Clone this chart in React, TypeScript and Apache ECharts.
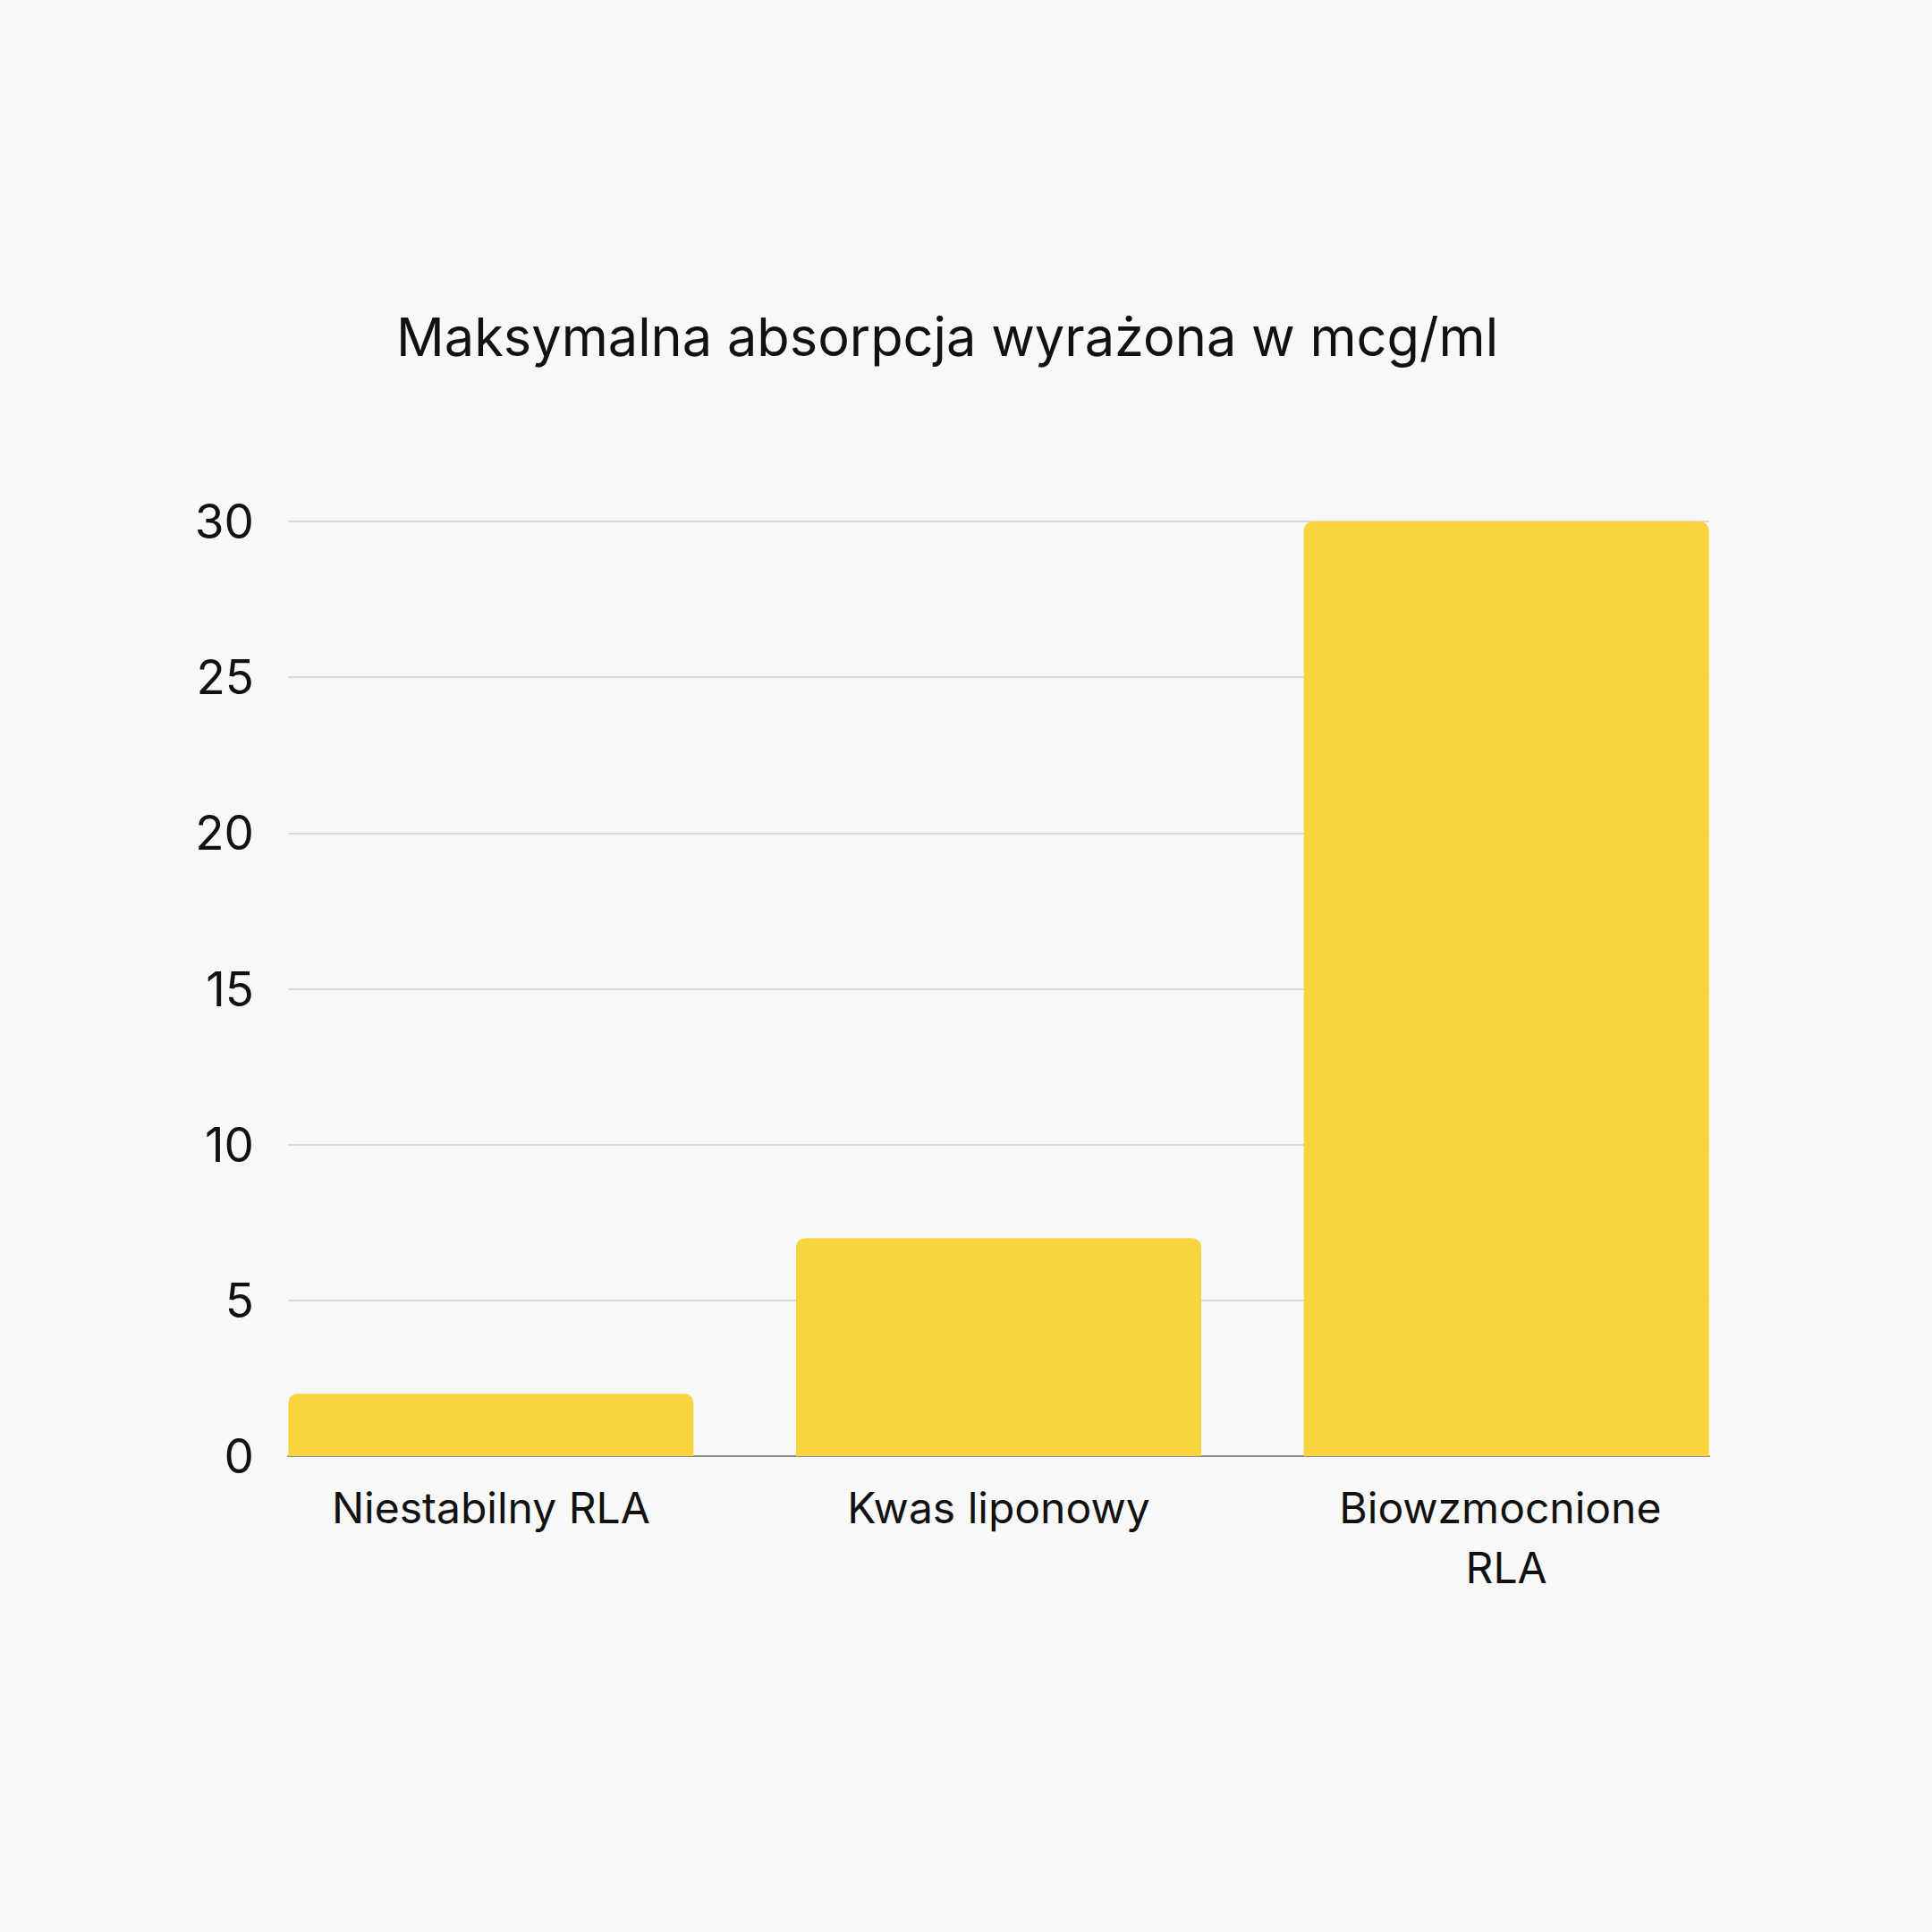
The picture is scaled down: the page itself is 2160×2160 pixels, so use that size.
import React, { useEffect, useRef } from "react";
import * as echarts from "echarts";

// dane wykresu
const categories = ["Niestabilny RLA", "Kwas liponowy", "Biowzmocnione RLA"];
const values = [2, 7, 30];
const yTicks = { min: 0, max: 30, interval: 5 };
const titleText = "Maksymalna absorpcja wyrażona w mcg/ml";

const FONT = "Inter, 'Noto Sans', sans-serif";

const App: React.FC = () => {
  const chartRef = useRef<HTMLDivElement>(null);

  useEffect(() => {
    const chart = echarts.init(chartRef.current, null, { renderer: "svg" });
    chart.setOption({
      animation: false,
      backgroundColor: "#f8f8f8",
      title: {
        text: titleText,
        left: 438,
        top: 341,
        textStyle: { fontFamily: FONT, fontSize: 59.5, fontWeight: "normal", color: "#111111" },
      },
      grid: [
        // siatka dla słupków (szersza, by słupki dochodziły do krawędzi osi)
        { left: 265, right: 192, top: 583, bottom: 532, containLabel: false },
        // siatka dla osi Y i linii pomocniczych
        { left: 322, right: 249, top: 583, bottom: 532, containLabel: false },
      ],
      xAxis: [
        {
          type: "category",
          gridIndex: 0,
          data: categories,
          axisLine: { show: false },
          axisTick: { show: false },
          axisLabel: {
            interval: 0,
            margin: 24,
            fontFamily: FONT,
            fontSize: 48,
            lineHeight: 67,
            color: "#111111",
            width: 400,
            overflow: "break",
          },
        },
        {
          type: "value",
          gridIndex: 1,
          min: 0,
          max: 1,
          axisLine: { show: true, onZero: false, lineStyle: { color: "#8a8a8a", width: 2 } },
          axisTick: { show: false },
          axisLabel: { show: false },
          splitLine: { show: false },
        },
      ],
      yAxis: [
        {
          type: "value",
          gridIndex: 0,
          ...yTicks,
          show: false,
          splitLine: { show: false },
        },
        {
          type: "value",
          gridIndex: 1,
          ...yTicks,
          axisLine: { show: false },
          axisTick: { show: false },
          axisLabel: {
            margin: 38,
            fontFamily: FONT,
            fontSize: 53,
            color: "#111111",
          },
          splitLine: { show: true, lineStyle: { color: "#d9d9d9", width: 2 } },
        },
      ],
      series: [
        {
          type: "bar",
          xAxisIndex: 0,
          yAxisIndex: 0,
          data: values,
          barWidth: 453,
          itemStyle: { color: "#f8d43f", borderRadius: [10, 10, 0, 0] },
        },
      ],
    });
    return () => chart.dispose();
  }, []);

  return (
    <div
      ref={chartRef}
      style={{ position: "fixed", left: 0, top: 0, width: 2160, height: 2160 }}
    />
  );
};

export default App;
